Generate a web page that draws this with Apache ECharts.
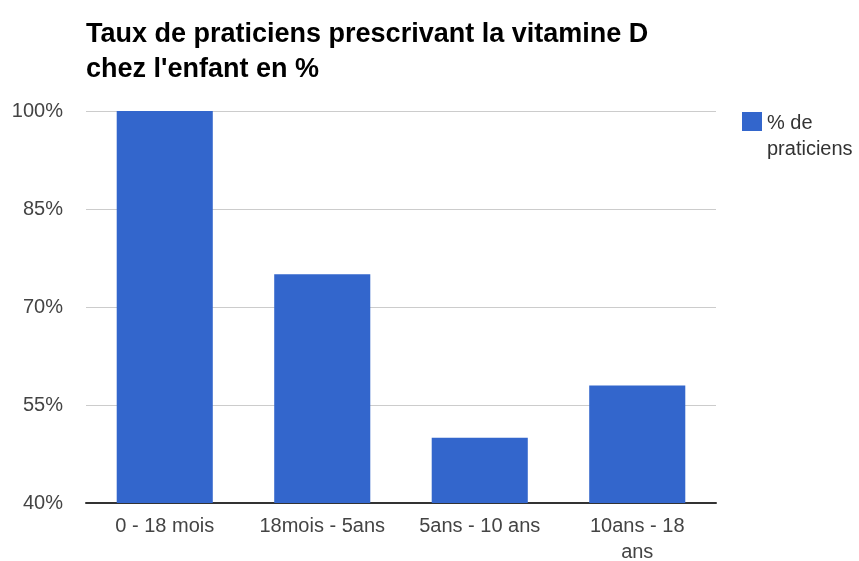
<!DOCTYPE html>
<html>
<head>
<meta charset="utf-8">
<script src="https://cdn.jsdelivr.net/npm/echarts@6/dist/echarts.min.js"></script>
<style>
  html, body { margin: 0; padding: 0; background: #fff; }
  #chart { width: 859px; height: 561px; }
</style>
</head>
<body>
<div id="chart"></div>
<script>
  var categories = ['0 - 18 mois', '18mois - 5ans', '5ans - 10 ans', '10ans - 18 ans'];
  var values = [100, 75, 50, 58];
  var seriesName = '% de praticiens';

  var myChart = echarts.init(document.getElementById('chart'));
  var option = {
    backgroundColor: '#fff',
    animation: false,
    title: {
      text: 'Taux de praticiens prescrivant la vitamine D\nchez l\'enfant en %',
      left: 81,
      top: 12,
      textStyle: {
        fontFamily: 'Liberation Sans',
        fontWeight: 'bold',
        fontSize: 27,
        lineHeight: 35,
        color: '#000'
      }
    },
    legend: {
      orient: 'vertical',
      left: 737,
      top: 105,
      padding: 5,
      itemWidth: 20,
      itemHeight: 48,
      // square on top, empty space below so the two text lines sit lower
      icon: 'path://M0,0h20v19h-20zM0,48',
      formatter: function () { return '% de\npraticiens'; },
      textStyle: {
        fontFamily: 'Liberation Sans',
        fontSize: 20,
        lineHeight: 26,
        color: '#333'
      }
    },
    grid: { left: 86, right: 143, top: 111, bottom: 58, outerBoundsMode: 'none' },
    xAxis: {
      type: 'category',
      data: categories,
      axisLine: { lineStyle: { color: '#333', width: 2 } },
      axisTick: { show: false },
      axisLabel: {
        interval: 0,
        color: '#444',
        fontFamily: 'Liberation Sans',
        fontSize: 20,
        lineHeight: 26,
        margin: 10,
        formatter: function (v) { return v === '10ans - 18 ans' ? '10ans - 18\nans' : v; }
      }
    },
    yAxis: {
      type: 'value',
      min: 40,
      max: 100,
      interval: 15,
      axisLine: { show: false },
      axisTick: { show: false },
      splitLine: { lineStyle: { color: '#ccc', width: 1 } },
      axisLabel: {
        color: '#444',
        fontFamily: 'Liberation Sans',
        fontSize: 20,
        margin: 23,
        formatter: '{value}%'
      }
    },
    series: [{
      name: seriesName,
      type: 'bar',
      data: values,
      barWidth: '61%',
      itemStyle: { color: '#3366cc' }
    }]
  };
  myChart.setOption(option);
</script>
</body>
</html>
